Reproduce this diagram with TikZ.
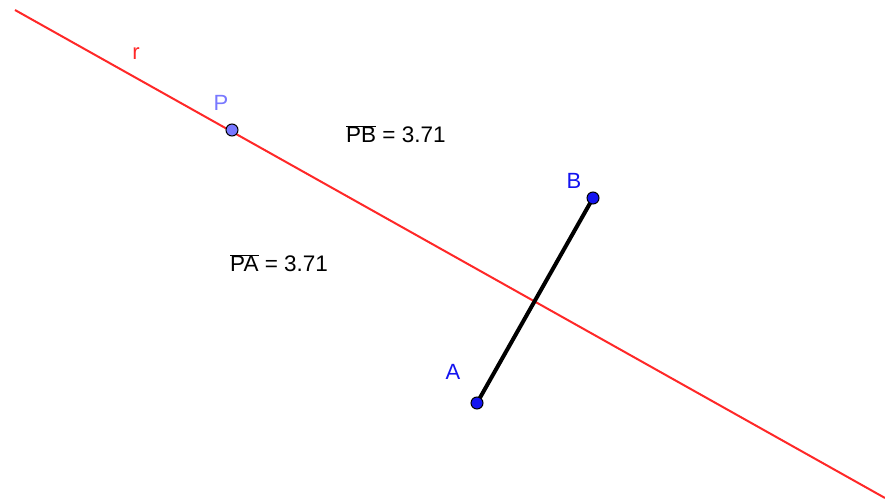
\documentclass[tikz,border=0pt]{standalone}
\usepackage{fontspec}
\setmainfont{Liberation Sans}
\definecolor{rline}{RGB}{255,40,40}
\definecolor{pfill}{RGB}{120,120,255}
\definecolor{ptblue}{RGB}{20,20,240}
\begin{document}
\begin{tikzpicture}[x=1pt,y=-1pt,
  lbl/.style={font=\fontsize{22}{25}\selectfont, inner sep=0pt},
  txt/.style={font=\fontsize{22.5}{26}\selectfont, inner sep=0pt, anchor=base west, text=black},
  pt/.style={circle, draw=black, line width=1pt, minimum size=12pt, inner sep=0pt}]
\useasboundingbox[fill=white] (0,0) rectangle (885,502);
\coordinate (r1) at (15,10);
\coordinate (r2) at (885,498);
\draw[rline, line width=2pt] (r1) -- (r2);
\node[lbl, text=rline] (rl) at (136,54) {r};
\draw[black, line width=4pt] (477,403) coordinate (Ac) -- (593,198) coordinate (Bc);
\node[pt, fill=pfill] (P) at (232,130) {};
\node[pt, fill=ptblue] (A) at (Ac) {};
\node[pt, fill=ptblue] (B) at (Bc) {};
\node[lbl, text=pfill] (Pl) at (221,103) {P};
\node[lbl, text=ptblue] (Bl) at (574,181) {B};
\node[lbl, text=ptblue] (Al) at (453,372) {A};
\node[txt] (PB) at (346,143) {$\overline{\mbox{PB}}$ = 3.71};
\node[txt] (PA) at (230,272) {$\overline{\mbox{PA}}$ = 3.71};
\end{tikzpicture}
\end{document}
